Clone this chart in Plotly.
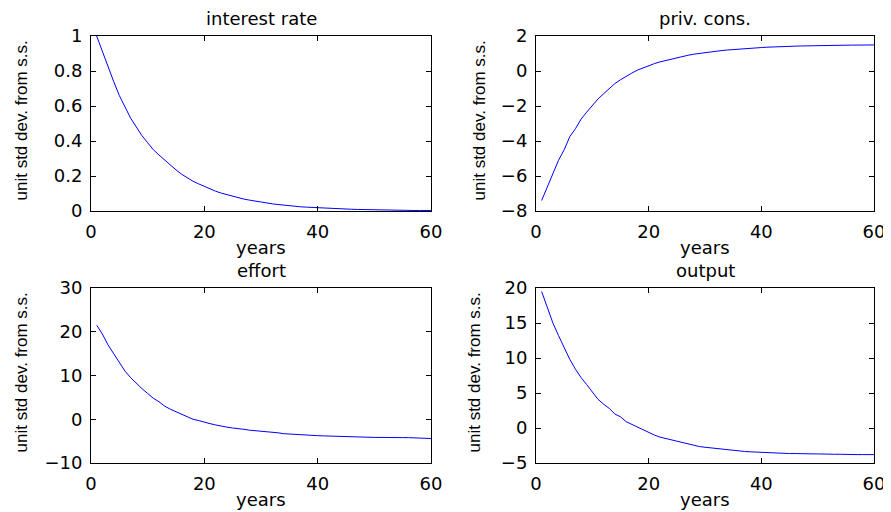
import plotly.graph_objects as go

years = list(range(1, 61))

interest_rate = [1.00, 0.91, 0.82, 0.74, 0.66, 0.59, 0.53, 0.48, 0.43, 0.39,
                 0.35, 0.32, 0.29, 0.26, 0.235, 0.21, 0.19, 0.17, 0.155, 0.14,
                 0.125, 0.113, 0.102, 0.093, 0.084, 0.076, 0.068, 0.062, 0.056, 0.05,
                 0.045, 0.041, 0.037, 0.033, 0.030, 0.027, 0.024, 0.022, 0.020, 0.018,
                 0.016, 0.015, 0.013, 0.012, 0.011, 0.010, 0.009, 0.008, 0.007, 0.006,
                 0.006, 0.005, 0.005, 0.004, 0.004, 0.004, 0.003, 0.003, 0.003, 0.003]

priv_cons = [-7.4, -6.6, -5.8, -5.1, -4.5, -3.75, -3.3, -2.75, -2.35, -1.95,
             -1.6, -1.3, -1.0, -0.72, -0.5, -0.3, -0.12, 0.05, 0.18, 0.3,
             0.42, 0.52, 0.6, 0.7, 0.78, 0.84, 0.9, 0.96, 1.01, 1.06,
             1.1, 1.14, 1.17, 1.2, 1.23, 1.26, 1.28, 1.3, 1.32, 1.34,
             1.36, 1.38, 1.39, 1.40, 1.41, 1.42, 1.43, 1.44, 1.45, 1.46,
             1.46, 1.47, 1.47, 1.47, 1.48, 1.48, 1.48, 1.48, 1.49, 1.49]

effort = [21.5, 19.5, 17.0, 15.0, 13.0, 11.0, 9.5, 8.2, 7.0, 5.9,
          4.8, 4.0, 3.0, 2.3, 1.7, 1.1, 0.5, 0.0, -0.3, -0.7,
          -1.0, -1.3, -1.6, -1.8, -2.0, -2.1, -2.3, -2.5, -2.6, -2.8,
          -2.9, -3.0, -3.1, -3.3, -3.4, -3.45, -3.5, -3.6, -3.7, -3.75,
          -3.8, -3.85, -3.9, -4.0, -4.0, -4.05, -4.1, -4.1, -4.1, -4.15,
          -4.15, -4.2, -4.2, -4.2, -4.2, -4.2, -4.25, -4.25, -4.3, -4.4]

output = [19.5, 17.2, 15.0, 13.2, 11.5, 9.8, 8.4, 7.2, 6.2, 5.2,
          4.1, 3.4, 2.8, 2.0, 1.6, 0.9, 0.5, 0.1, -0.3, -0.7,
          -1.0, -1.3, -1.5, -1.7, -1.9, -2.1, -2.3, -2.5, -2.65, -2.75,
          -2.85, -2.95, -3.05, -3.1, -3.2, -3.3, -3.35, -3.4, -3.45, -3.5,
          -3.55, -3.55, -3.6, -3.65, -3.65, -3.65, -3.7, -3.7, -3.7, -3.7,
          -3.75, -3.75, -3.75, -3.75, -3.8, -3.8, -3.8, -3.8, -3.8, -3.8]

titles = ["interest rate", "priv. cons.", "effort", "output"]
series = [interest_rate, priv_cons, effort, output]
y_ranges = [[0, 1], [-8, 2], [-10, 30], [-5, 20]]
y_dticks = [0.2, 2, 10, 5]
x_label = "years"
y_label = "unit std dev. from s.s."

# the page body has an 8px margin; size the figure to the visible window
OFF = 8
W, H = 891 - OFF, 512 - OFF


def xd(a, b):
    return [(a - OFF) / W, (b - OFF) / W]


def yd(top, bottom):
    return [1 - (bottom - OFF) / H, 1 - (top - OFF) / H]


x_doms = [xd(91, 431), xd(536, 874)]
y_doms = [yd(36, 211), yd(288, 463)]
ytitle_shift = [-70, -57, -70, -62]

WIDE = "DejaVu Sans, Verdana, sans-serif"
ARIAL = "Liberation Sans, Arial, sans-serif"

fig = go.Figure()
layout = dict(
    template="none",
    width=W, height=H,
    margin=dict(l=0, r=0, t=0, b=0, pad=0),
    paper_bgcolor="white", plot_bgcolor="white",
    showlegend=False,
    font=dict(family=WIDE, color="black"),
)
annotations = []
for i in range(4):
    r, c = divmod(i, 2)
    suffix = "" if i == 0 else str(i + 1)
    fig.add_trace(go.Scatter(x=years, y=series[i], mode="lines",
                             line=dict(color="#0000ff", width=1),
                             xaxis="x" + suffix, yaxis="y" + suffix))
    axis_common = dict(showline=True, linecolor="black", linewidth=1, mirror="ticks",
                       ticks="inside", ticklen=5, tickcolor="black", tickwidth=1,
                       showgrid=False, zeroline=False, automargin=False,
                       ticklabelstandoff=4,
                       tickfont=dict(family=WIDE, size=18, color="black"))
    layout["xaxis" + suffix] = dict(axis_common, domain=x_doms[c], range=[0, 60], dtick=20,
                                    anchor="y" + suffix)
    layout["yaxis" + suffix] = dict(axis_common, domain=y_doms[r], range=y_ranges[i],
                                    dtick=y_dticks[i], anchor="x" + suffix)
    xc = (x_doms[c][0] + x_doms[c][1]) / 2
    annotations.append(dict(text=titles[i], x=xc, y=y_doms[r][1], xref="paper", yref="paper",
                            xanchor="center", yanchor="bottom", yshift=5, showarrow=False,
                            font=dict(family=WIDE, size=18, color="black")))
    annotations.append(dict(text=x_label, x=xc, y=y_doms[r][0], xref="paper", yref="paper",
                            xanchor="center", yanchor="top", yshift=-24, showarrow=False,
                            font=dict(family=WIDE, size=18, color="black")))
    annotations.append(dict(text=y_label, x=x_doms[c][0], y=(y_doms[r][0] + y_doms[r][1]) / 2,
                            xref="paper", yref="paper", textangle=-90,
                            xanchor="center", yanchor="middle", xshift=ytitle_shift[i],
                            yshift=3, showarrow=False,
                            font=dict(family=ARIAL, size=17, color="black")))
layout["annotations"] = annotations
fig.update_layout(**layout)
fig.write_html("out.html")
